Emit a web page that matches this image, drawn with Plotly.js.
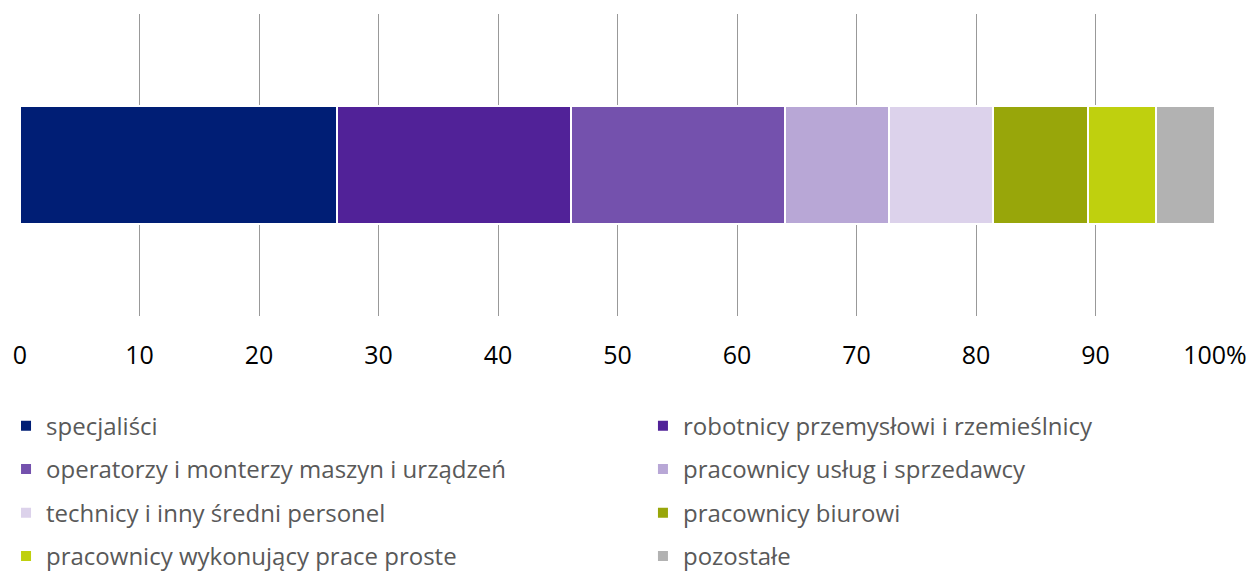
<!DOCTYPE html>
<html>
<head>
<meta charset="utf-8">
<script src="https://cdn.plot.ly/plotly-3.0.1.min.js"></script>
<style>html,body{margin:0;padding:0;background:#fff;}#chart{width:1257px;height:572px;}</style>
</head>
<body>
<div id="chart"></div>
<script>
const categories = ["specjaliści", "robotnicy przemysłowi i rzemieślnicy", "operatorzy i monterzy maszyn i urządzeń", "pracownicy usług i sprzedawcy", "technicy i inny średni personel", "pracownicy biurowi", "pracownicy wykonujący prace proste", "pozostałe"];
const values = [26.5, 19.6, 17.9, 8.7, 8.7, 8.0, 5.7, 4.9];
const colors = ["#001E75", "#512298", "#7451AD", "#B8A7D6", "#DCD2EB", "#98A60A", "#BFD00E", "#B2B2B2"];
const tickVals = [0, 10, 20, 30, 40, 50, 60, 70, 80, 90, 100];
const tickText = ["0", "10", "20", "30", "40", "50", "60", "70", "80", "90", "100%"];

// legend grid (two columns, row-major), positions in container fractions
const legendColX = [0.0048, 0.5115];
const legendRowY = [0.2552, 0.1792, 0.1031, 0.0271];

const W = 1257, H = 572;
const legendIds = categories.map((_, i) => i === 0 ? "legend" : "legend" + (i + 1));

const traces = categories.map((name, i) => ({
  type: "bar",
  orientation: "h",
  name: name,
  x: [values[i]],
  y: [""],
  legend: legendIds[i],
  marker: {color: colors[i], line: {color: "#ffffff", width: 2}},
  hoverinfo: "name+x"
}));

const layout = {
  width: W,
  height: H,
  margin: {l: 20, r: 42, t: 14, b: 256, autoexpand: false},
  barmode: "stack",
  bargap: 0.61,
  paper_bgcolor: "#ffffff",
  plot_bgcolor: "#ffffff",
  font: {family: "Open Sans, sans-serif", color: "#000000"},
  xaxis: {
    range: [0, 100],
    tickvals: tickVals,
    ticktext: tickText,
    showgrid: true,
    gridcolor: "#999999",
    gridwidth: 1,
    zeroline: false,
    showline: false,
    ticks: "",
    ticklabelstandoff: 22,
    tickfont: {size: 25, color: "#000000"},
    fixedrange: true
  },
  yaxis: {
    showticklabels: false,
    showgrid: false,
    zeroline: false,
    fixedrange: true
  },
  showlegend: true
};

legendIds.forEach((id, i) => {
  layout[id] = {
    xref: "container",
    yref: "container",
    x: legendColX[i % 2],
    xanchor: "left",
    y: legendRowY[Math.floor(i / 2)],
    yanchor: "middle",
    orientation: "v",
    font: {size: 24, color: "#595959", family: "Open Sans, sans-serif"},
    bgcolor: "rgba(0,0,0,0)",
    itemclick: false,
    itemdoubleclick: false
  };
});

Plotly.newPlot("chart", traces, layout, {displayModeBar: false, staticPlot: true});
</script>
</body>
</html>
